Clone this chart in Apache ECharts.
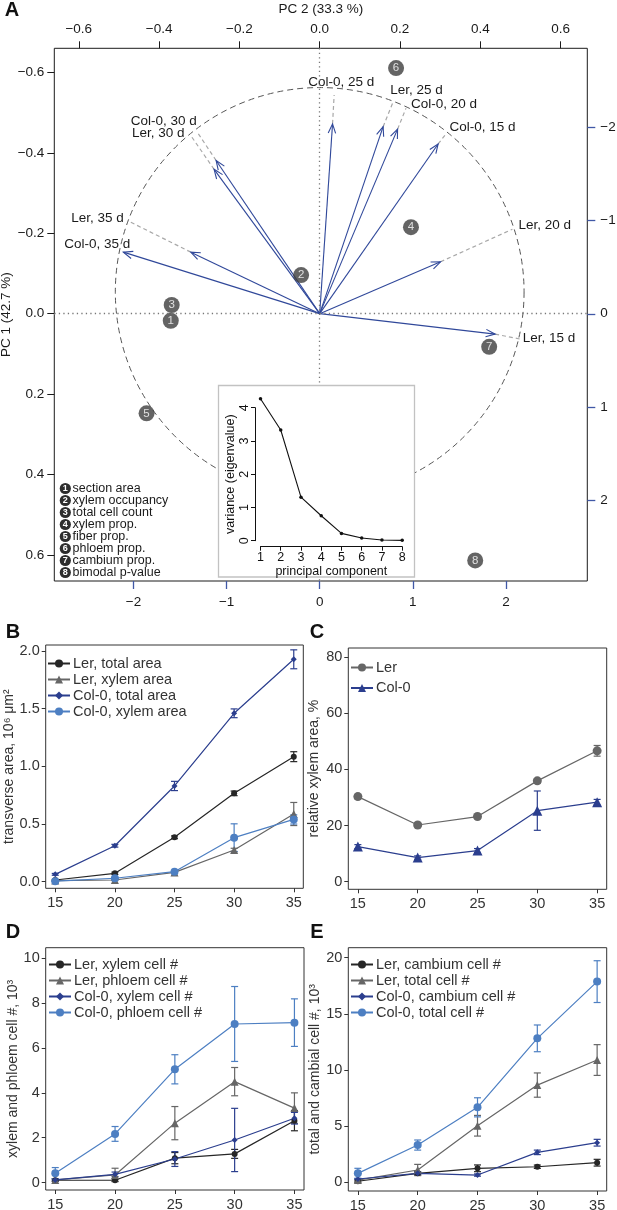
<!DOCTYPE html>
<html>
<head>
<meta charset="utf-8">
<script src="https://cdn.jsdelivr.net/npm/echarts@6/dist/echarts.min.js"></script>
<style>
html, body { margin: 0; padding: 0; background: #fff; }
#chart { width: 617px; height: 1210px; }
</style>
</head>
<body>
<div id="chart"></div>
<script>
// ---- panel A: PCA biplot ----
const pcVars = ['Col-0, 15 d', 'Col-0, 20 d', 'Col-0, 25 d', 'Col-0, 30 d', 'Col-0, 35 d',
                'Ler, 15 d', 'Ler, 20 d', 'Ler, 25 d', 'Ler, 30 d', 'Ler, 35 d'];
const loadPC2 = [0.295, 0.194, 0.032, -0.258, -0.489, 0.437, 0.301, 0.158, -0.263, -0.321];
const loadPC1 = [-0.422, -0.459, -0.472, -0.381, -0.153, 0.051, -0.129, -0.465, -0.359, -0.153];
// where the dashed extension of each arrow meets the circle
const labelPC2 = [0.316, 0.215, 0.036, -0.306, -0.489, 0.498, 0.480, 0.183, -0.319, -0.478];
const labelPC1 = [-0.449, -0.511, -0.544, -0.453, -0.153, 0.063, -0.210, -0.527, -0.440, -0.231];

const traits = ['section area', 'xylem occupancy', 'total cell count', 'xylem prop.',
                'fiber prop.', 'phloem prop.', 'cambium prop.', 'bimodal p-value'];
const scorePC2 = [-1.60, -0.20, -1.59, 0.98, -1.86, 0.82, 1.82, 1.67];
const scorePC1 = [0.075, -0.416, -0.094, -0.93, 1.07, -2.64, 0.355, 2.65];

const circleCenter = [0, -0.054];
const circleRadius = 0.509;

// scree inset
const pcNumber = [1, 2, 3, 4, 5, 6, 7, 8];
const eigenvalues = [4.27, 3.33, 1.31, 0.75, 0.22, 0.08, 0.02, 0.01];

const loadTicks = [-0.6, -0.4, -0.2, 0, 0.2, 0.4, 0.6];
const scoreTicks = [-2, -1, 0, 1, 2];

// ---- panels B-E ----
const days = [15, 20, 25, 30, 35];

const lerTotalArea = [0.015, 0.073, 0.385, 0.766, 1.084];
const lerTotalAreaErr = [0.005, 0.01, 0.012, 0.02, 0.043];
const lerXylemArea = [0.01, 0.015, 0.081, 0.275, 0.587];
const lerXylemAreaErr = [0.003, 0.005, 0.01, 0.015, 0.1];
const colTotalArea = [0.064, 0.312, 0.83, 1.46, 1.928];
const colTotalAreaErr = [0.008, 0.012, 0.04, 0.038, 0.082];
const colXylemArea = [0.005, 0.03, 0.087, 0.382, 0.54];
const colXylemAreaErr = [0.003, 0.005, 0.01, 0.12, 0.04];

const lerRelXylem = [30.3, 20.2, 23.2, 35.9, 46.6];
const lerRelXylemErr = [0.8, 0.6, 0.7, 0.8, 1.9];
const colRelXylem = [12.5, 8.6, 11.1, 25.3, 28.3];
const colRelXylemErr = [0.7, 0.6, 0.7, 7.0, 1.0];

const lerXylemCells = [0.105, 0.105, 1.09, 1.28, 2.76];
const lerXylemCellsErr = [0.05, 0.05, 0.25, 0.2, 0.45];
const lerPhloemCells = [0.12, 0.34, 2.65, 4.5, 3.32];
const lerPhloemCellsErr = [0.05, 0.3, 0.74, 0.63, 0.68];
const colXylemCells = [0.12, 0.37, 1.05, 1.9, 2.87];
const colXylemCellsErr = [0.05, 0.1, 0.33, 1.41, 0.26];
const colPhloemCells = [0.42, 2.17, 5.05, 7.07, 7.13];
const colPhloemCellsErr = [0.25, 0.33, 0.65, 1.67, 1.06];

const lerCambiumCells = [0.1, 0.8, 1.25, 1.39, 1.75];
const lerCambiumCellsErr = [0.1, 0.15, 0.3, 0.15, 0.3];
const lerTotalCells = [0.2, 1.1, 5.04, 8.66, 10.89];
const lerTotalCellsErr = [0.1, 0.5, 0.92, 1.08, 1.37];
const colCambiumCells = [0.3, 0.8, 0.65, 2.67, 3.53];
const colCambiumCellsErr = [0.05, 0.1, 0.1, 0.2, 0.3];
const colTotalCells = [0.8, 3.32, 6.68, 12.82, 17.87];
const colTotalCellsErr = [0.45, 0.45, 0.85, 1.19, 1.86];

// ---- styling ----
const FONT = '"Liberation Sans", Arial, Helvetica, sans-serif';
const navyA = '#30489a';
const tickBlue = '#4058a6';
const cDark = '#262626', cGray = '#666666', cNavy = '#2b3e8e', cBlue = '#4d7fc2';

// label alignment + pixel nudge for each arrow label
const labelLayout = [
  ['left', 3, -6], ['left', 5, -4], ['center', 7, -13], ['right', 0, -10], ['right', 7, -8],
  ['left', 3, -1], ['left', 6, -4], ['left', -3, -11], ['right', -7, -3], ['right', -4, -2]
];

const minus = v => (v < 0 ? '\u2212' : '') + Math.abs(v);
const minus1 = v => (v < 0 ? '\u2212' : '') + Math.abs(v).toFixed(1);

function renderCircle(params, api) {
  const c = api.coord([api.value(0), api.value(1)]);
  const r = api.size([api.value(2), 0])[0];
  return {
    type: 'circle',
    shape: { cx: c[0], cy: c[1], r: r },
    style: { fill: 'none', stroke: '#555', lineWidth: 1, lineDash: [6, 4] }
  };
}

function renderArrow(params, api) {
  const i = params.dataIndex;
  const o = api.coord([0, 0]);
  const tip = api.coord([api.value(0), api.value(1)]);
  const end = api.coord([api.value(2), api.value(3)]);
  const ang = Math.atan2(tip[1] - o[1], tip[0] - o[0]);
  const h = 10, s = 0.38;
  const head = d => [tip[0] - h * Math.cos(ang + d), tip[1] - h * Math.sin(ang + d)];
  const lay = labelLayout[i];
  return {
    type: 'group',
    children: [
      { type: 'line', shape: { x1: tip[0], y1: tip[1], x2: end[0], y2: end[1] },
        style: { stroke: '#a8a8a8', lineWidth: 1.2, lineDash: [4, 3] } },
      { type: 'line', shape: { x1: o[0], y1: o[1], x2: tip[0], y2: tip[1] },
        style: { stroke: navyA, lineWidth: 1.1 } },
      { type: 'polyline', shape: { points: [head(s), tip, head(-s)] },
        style: { stroke: navyA, fill: 'none', lineWidth: 1.1 } },
      { type: 'text', x: end[0] + lay[1], y: end[1] + lay[2],
        style: { text: pcVars[i], align: lay[0], verticalAlign: 'middle',
                 font: '13.5px ' + FONT, fill: '#1a1a1a' } }
    ]
  };
}

function makeErr(color) {
  return function (params, api) {
    const x = api.value(0);
    const lo = api.coord([x, api.value(1)]);
    const hi = api.coord([x, api.value(2)]);
    const w = 3.5;
    const st = { stroke: color, lineWidth: 1.2 };
    return {
      type: 'group',
      children: [
        { type: 'line', shape: { x1: lo[0], y1: lo[1], x2: hi[0], y2: hi[1] }, style: st },
        { type: 'line', shape: { x1: lo[0] - w, y1: lo[1], x2: lo[0] + w, y2: lo[1] }, style: st },
        { type: 'line', shape: { x1: hi[0] - w, y1: hi[1], x2: hi[0] + w, y2: hi[1] }, style: st }
      ]
    };
  };
}

function lineWithErr(axis, name, vals, errs, color, symbol, size) {
  return [
    {
      type: 'custom', xAxisIndex: axis, yAxisIndex: axis, silent: true,
      renderItem: makeErr(color),
      encode: { x: 0, y: [1, 2] },
      data: days.map((d, i) => [d, vals[i] - errs[i], vals[i] + errs[i]]),
      z: 3
    },
    {
      type: 'line', name: name, xAxisIndex: axis, yAxisIndex: axis,
      data: days.map((d, i) => [d, vals[i]]),
      symbol: symbol, symbolSize: size, showSymbol: true,
      itemStyle: { color: color }, lineStyle: { color: color, width: 1.2 },
      emphasis: { disabled: true }, z: 4
    }
  ];
}

function panelX(grid) {
  return {
    gridIndex: grid, type: 'value', min: 14.2, max: 35.8,
    axisLine: { show: false, onZero: false }, splitLine: { show: false },
    axisTick: { show: true, length: 4, lineStyle: { color: '#333' }, customValues: days },
    axisLabel: { fontSize: 14.5, color: '#333', margin: 7, customValues: days }
  };
}

function panelY(grid, min, max, ticks, fmt, name, gap) {
  return {
    gridIndex: grid, type: 'value', min: min, max: max,
    axisLine: { show: false, onZero: false }, splitLine: { show: false },
    axisTick: { show: true, length: 4, lineStyle: { color: '#333' }, customValues: ticks },
    axisLabel: { fontSize: 14.5, color: '#333', margin: 6, customValues: ticks, formatter: fmt },
    name: name, nameLocation: 'middle', nameGap: gap,
    nameTextStyle: { fontSize: 14, color: '#333' }
  };
}

function panelLegend(names, left, top, gap) {
  return {
    data: names, left: left, top: top, orient: 'vertical', padding: 0,
    itemWidth: 22, itemHeight: 10, itemGap: gap, selectedMode: false,
    textStyle: { fontSize: 14.5, color: '#333', lineHeight: 14, padding: [0, 0, 0, -2] }
  };
}

const namesB = ['Ler, total area', 'Ler, xylem area', 'Col-0, total area', 'Col-0, xylem area'];
const namesC = ['Ler', 'Col-0'];
const namesD = ['Ler, xylem cell #', 'Ler, phloem cell #', 'Col-0, xylem cell #', 'Col-0, phloem cell #'];
const namesE = ['Ler, cambium cell #', 'Ler, total cell #', 'Col-0, cambium cell #', 'Col-0, total cell #'];

const gridBox = { show: true, borderColor: '#333', borderWidth: 1, backgroundColor: 'transparent',
                  containLabel: false, outerBoundsMode: 'none' };

const letters = [['A', 12, 10], ['B', 13, 632], ['C', 317, 632], ['D', 13, 932], ['E', 317, 932]];
const graphics = [
  { type: 'rect', z: 50, silent: true,
    shape: { x: 218.5, y: 385.5, width: 196, height: 191.5 },
    style: { fill: '#fff', stroke: '#c2c2c2', lineWidth: 1.3 } }
];
letters.forEach(l => graphics.push({
  type: 'text', x: l[1], y: l[2], silent: true,
  style: { text: l[0], font: 'bold 20px ' + FONT, fill: '#111', align: 'center', verticalAlign: 'middle' }
}));
traits.forEach((t, i) => {
  const y = 488.5 + 12 * i;
  graphics.push({
    type: 'circle', silent: true, shape: { cx: 65.3, cy: y, r: 5.6 },
    style: { fill: '#2e2e2e' }
  });
  graphics.push({
    type: 'text', x: 65.3, y: y + 0.5, silent: true,
    style: { text: String(i + 1), font: 'bold 9px ' + FONT, fill: '#fff',
             align: 'center', verticalAlign: 'middle' }
  });
  graphics.push({
    type: 'text', x: 72.5, y: y, silent: true,
    style: { text: t, font: '12.5px ' + FONT, fill: '#1a1a1a', align: 'left', verticalAlign: 'middle' }
  });
});

const option = {
  animation: false,
  textStyle: { fontFamily: FONT },
  grid: [
    { left: 54.3, top: 48.3, width: 533, height: 532.7, show: true, borderColor: '#1a1a1a', borderWidth: 1,
      containLabel: false, outerBoundsMode: 'none' },
    { left: 260.5, top: 407.7, width: 141.7, height: 133, show: false,
      containLabel: false, outerBoundsMode: 'none' },
    Object.assign({ left: 45.7, top: 645, width: 257.6, height: 243.3 }, gridBox),
    Object.assign({ left: 348.3, top: 648, width: 258.4, height: 241.3 }, gridBox),
    Object.assign({ left: 45.7, top: 947.7, width: 258.3, height: 242.3 }, gridBox),
    Object.assign({ left: 348.3, top: 947.7, width: 258.4, height: 243.3 }, gridBox)
  ],
  xAxis: [
    { gridIndex: 0, type: 'value', position: 'top', min: -0.661, max: 0.6665,
      axisLine: { show: false, onZero: false }, splitLine: { show: false },
      axisTick: { length: 7, lineStyle: { color: '#1a1a1a' }, customValues: loadTicks },
      axisLabel: { fontSize: 13.5, color: '#1a1a1a', margin: 12, customValues: loadTicks, formatter: minus1 },
      name: 'PC 2 (33.3 %)', nameLocation: 'middle', nameGap: 32,
      nameTextStyle: { fontSize: 13.5, color: '#1a1a1a' } },
    { gridIndex: 0, type: 'value', position: 'bottom', min: -2.851, max: 2.874,
      axisLine: { show: false, onZero: false }, splitLine: { show: false },
      axisTick: { length: 8, lineStyle: { color: tickBlue, width: 1.3 }, customValues: scoreTicks },
      axisLabel: { fontSize: 13.5, color: '#1a1a1a', margin: 14, customValues: scoreTicks, formatter: minus } },
    { gridIndex: 1, type: 'value', min: 1, max: 8, interval: 1, offset: 6, z: 60,
      axisLine: { show: true, onZero: false, lineStyle: { color: '#111' } }, splitLine: { show: false },
      axisTick: { length: 4, lineStyle: { color: '#111' } },
      axisLabel: { fontSize: 12.5, color: '#111', margin: 4 },
      name: 'principal component', nameLocation: 'middle', nameGap: 17,
      nameTextStyle: { fontSize: 12.5, color: '#111' } },
    panelX(2), panelX(3), panelX(4), panelX(5)
  ],
  yAxis: [
    { gridIndex: 0, type: 'value', position: 'left', inverse: true, min: -0.660, max: 0.665,
      axisLine: { show: false, onZero: false }, splitLine: { show: false },
      axisTick: { length: 7, lineStyle: { color: '#1a1a1a' }, customValues: loadTicks },
      axisLabel: { fontSize: 13.5, color: '#1a1a1a', margin: 10, customValues: loadTicks, formatter: minus1 },
      name: 'PC 1 (42.7 %)', nameLocation: 'middle', nameGap: 41, nameMoveOverlap: false,
      nameTextStyle: { fontSize: 13.5, color: '#1a1a1a' } },
    { gridIndex: 0, type: 'value', position: 'right', inverse: true, min: -2.852, max: 2.871,
      axisLine: { show: false, onZero: false }, splitLine: { show: false },
      axisTick: { length: 8, lineStyle: { color: tickBlue, width: 1.3 }, customValues: scoreTicks },
      axisLabel: { fontSize: 13.5, color: '#1a1a1a', margin: 13, customValues: scoreTicks, formatter: minus } },
    { gridIndex: 1, type: 'value', min: 0, max: 4, interval: 1, offset: 5.5, z: 60,
      axisLine: { show: true, onZero: false, lineStyle: { color: '#111' } }, splitLine: { show: false },
      axisTick: { length: 4, lineStyle: { color: '#111' } },
      axisLabel: { fontSize: 12.5, color: '#111', margin: 4, rotate: 90 },
      name: 'variance (eigenvalue)', nameLocation: 'middle', nameGap: 18,
      nameTextStyle: { fontSize: 12.5, color: '#111' } },
    panelY(2, -0.057, 2.052, [0, 0.5, 1, 1.5, 2], v => v.toFixed(1), 'transverse area, 10\u2076 \u03bcm\u00b2', 29),
    panelY(3, -2.7, 83.2, [0, 20, 40, 60, 80], v => String(v), 'relative xylem area, %', 27),
    panelY(4, -0.33, 10.47, [0, 2, 4, 6, 8, 10], v => String(v), 'xylem and phloem cell #, 10\u00b3', 22),
    panelY(5, -0.77, 20.89, [0, 5, 10, 15, 20], v => String(v), 'total and cambial cell #, 10\u00b3', 22)
  ],
  legend: [
    panelLegend(namesB, 47, 656, 1),
    panelLegend(namesC, 350, 660, 5.5),
    panelLegend(namesD, 48, 957, 1),
    panelLegend(namesE, 350, 957, 1)
  ],
  graphic: graphics,
  series: [
    { type: 'custom', xAxisIndex: 0, yAxisIndex: 0, silent: true, z: 1,
      renderItem: renderCircle,
      data: [[circleCenter[0], circleCenter[1], circleRadius]],
      markLine: {
        silent: true, symbol: ['none', 'none'], label: { show: false },
        lineStyle: { color: '#777', width: 1.3, type: [1.3, 3.2] },
        data: [{ xAxis: 0 }, { yAxis: 0 }]
      } },
    { type: 'custom', xAxisIndex: 0, yAxisIndex: 0, silent: true, z: 2,
      renderItem: renderArrow,
      encode: { x: [0, 2], y: [1, 3] },
      data: pcVars.map((n, i) => [loadPC2[i], loadPC1[i], labelPC2[i], labelPC1[i]]) },
    { type: 'scatter', xAxisIndex: 1, yAxisIndex: 1, silent: true, z: 3,
      symbol: 'circle', symbolSize: 16,
      itemStyle: { color: '#3d3d3d' },
      label: { show: true, position: 'inside', formatter: p => p.value[2],
               color: '#fff', fontSize: 11.5 },
      data: traits.map((t, i) => [scorePC2[i], scorePC1[i], i + 1]) },
    { type: 'line', xAxisIndex: 2, yAxisIndex: 2, z: 60, clip: false, silent: true,
      data: pcNumber.map((n, i) => [n, eigenvalues[i]]),
      symbol: 'circle', symbolSize: 3.5,
      itemStyle: { color: '#111' }, lineStyle: { color: '#111', width: 1.1 } },

    ...lineWithErr(3, namesB[0], lerTotalArea, lerTotalAreaErr, cDark, 'circle', 6),
    ...lineWithErr(3, namesB[1], lerXylemArea, lerXylemAreaErr, cGray, 'triangle', 8),
    ...lineWithErr(3, namesB[2], colTotalArea, colTotalAreaErr, cNavy, 'diamond', 6),
    ...lineWithErr(3, namesB[3], colXylemArea, colXylemAreaErr, cBlue, 'circle', 8),

    ...lineWithErr(4, namesC[0], lerRelXylem, lerRelXylemErr, cGray, 'circle', 9),
    ...lineWithErr(4, namesC[1], colRelXylem, colRelXylemErr, cNavy, 'triangle', 10),

    ...lineWithErr(5, namesD[0], lerXylemCells, lerXylemCellsErr, cDark, 'circle', 6),
    ...lineWithErr(5, namesD[1], lerPhloemCells, lerPhloemCellsErr, cGray, 'triangle', 8),
    ...lineWithErr(5, namesD[2], colXylemCells, colXylemCellsErr, cNavy, 'diamond', 6),
    ...lineWithErr(5, namesD[3], colPhloemCells, colPhloemCellsErr, cBlue, 'circle', 8),

    ...lineWithErr(6, namesE[0], lerCambiumCells, lerCambiumCellsErr, cDark, 'circle', 6),
    ...lineWithErr(6, namesE[1], lerTotalCells, lerTotalCellsErr, cGray, 'triangle', 8),
    ...lineWithErr(6, namesE[2], colCambiumCells, colCambiumCellsErr, cNavy, 'diamond', 6),
    ...lineWithErr(6, namesE[3], colTotalCells, colTotalCellsErr, cBlue, 'circle', 8)
  ]
};

const chart = echarts.init(document.getElementById('chart'), null, { renderer: 'canvas' });
chart.setOption(option);
</script>
</body>
</html>
